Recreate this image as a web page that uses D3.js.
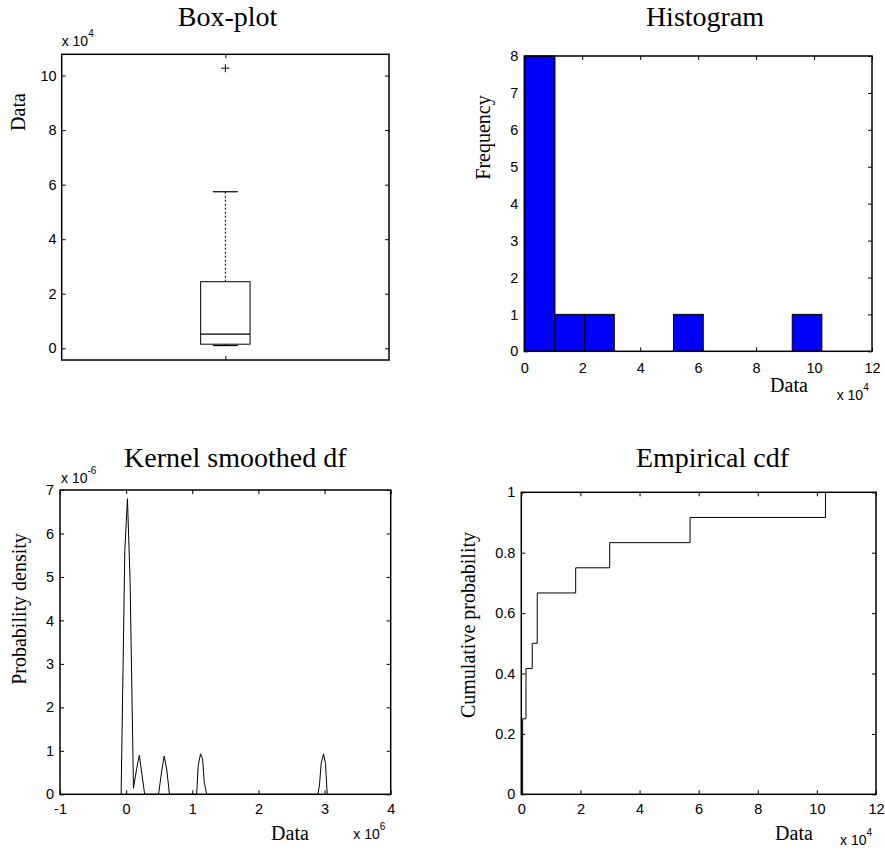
<!DOCTYPE html>
<html><head><meta charset="utf-8">
<script src="https://cdn.jsdelivr.net/npm/d3@7"></script>
<style>body{margin:0;background:#fff}</style>
</head><body>
<svg id="c" width="885" height="850"></svg>
<script>
// ---------- data ----------
// Box-plot (values in units of 10^4)
const boxTicks = [0, 2, 4, 6, 8, 10];
const boxQuartiles = [0.15, 0.52, 2.44];   // Q1, median, Q3
const boxWhiskers = [0.10, 5.74];          // lower, upper
const boxOutliers = [10.27];

// Histogram (x in units of 10^4)
const histEdges = [0.035, 1.0585, 2.082, 3.1055, 4.129, 5.1525, 6.176, 7.1995, 8.223, 9.2465, 10.27];
const histCounts = [8, 1, 1, 0, 0, 1, 0, 0, 0, 1];
const histXTicks = [0, 2, 4, 6, 8, 10, 12];
const histYTicks = [0, 1, 2, 3, 4, 5, 6, 7, 8];

// Kernel smoothed df (x in units of 10^6, y in units of 10^-6)
const kdeX = [-0.09, -0.076, -0.02, 0.02, 0.06, 0.111, 0.16, 0.2, 0.23, 0.28, 0.49, 0.54, 0.575, 0.615, 0.655, 1.066, 1.09, 1.125, 1.155, 1.182, 1.218, 2.899, 2.923, 2.949, 2.984, 3.014, 3.04];
const kdeY = [0, 0, 5.6, 6.8, 4.9, 0.14, 0.6, 0.9, 0.56, 0, 0, 0.56, 0.88, 0.56, 0, 0, 0.67, 0.93, 0.82, 0.27, 0, 0, 0.21, 0.71, 0.93, 0.71, 0];
const kdeXTicks = [-1, 0, 1, 2, 3, 4];
const kdeYTicks = [0, 1, 2, 3, 4, 5, 6, 7];

// Empirical cdf (x in units of 10^4)
const ecdfX = [0.045, 0.158, 0.37, 0.54, 1.84, 2.99, 5.71, 10.29];
const ecdfF = [0.25, 0.4167, 0.5, 0.6667, 0.75, 0.8333, 0.9167, 1];
const ecdfXTicks = [0, 2, 4, 6, 8, 10, 12];
const ecdfYTicks = [0, 0.2, 0.4, 0.6, 0.8, 1];

// ---------- helpers ----------
const svg = d3.select("#c");
const SANS = "'Liberation Sans', Arial, sans-serif";
const SERIF = "'Liberation Serif', 'Times New Roman', serif";
const TL = 4;
const TICKFS = 14.5;

function panel(o) {
  const x = d3.scaleLinear().domain(o.xDomain).range([o.l, o.r]);
  const y = d3.scaleLinear().domain(o.yDomain).range([o.b, o.t]);
  const g = svg.append("g");
  const style = a => a.attr("font-family", SANS).attr("font-size", TICKFS)
    .call(s => s.select(".domain").remove())
    .call(s => s.selectAll("line").attr("stroke", "#000"))
    .call(s => s.selectAll("text").attr("fill", "#000"));
  g.append("g").attr("transform", `translate(${o.l},0)`)
    .call(d3.axisLeft(y).tickValues(o.yTicks).tickSizeInner(-TL).tickSizeOuter(0).tickPadding(o.yPad || 6).tickFormat(d => String(+d.toFixed(4))))
    .call(style);
  g.append("g").attr("transform", `translate(${o.r},0)`)
    .call(d3.axisRight(y).tickValues(o.yTicks).tickSizeInner(-TL).tickSizeOuter(0).tickFormat(""))
    .call(style);
  g.append("g").attr("transform", `translate(0,${o.b})`)
    .call(d3.axisBottom(x).tickValues(o.xTicks).tickSizeInner(-TL).tickSizeOuter(0).tickPadding(o.xPad || 9).tickFormat(o.xLabels === false ? "" : (d => String(d))))
    .call(style);
  g.append("g").attr("transform", `translate(0,${o.t})`)
    .call(d3.axisTop(x).tickValues(o.xTicks).tickSizeInner(-TL).tickSizeOuter(0).tickFormat(""))
    .call(style);
  return {x, y, g};
}
function frame(o) {
  svg.append("rect").attr("x", o.l).attr("y", o.t).attr("width", o.r - o.l).attr("height", o.b - o.t)
    .attr("fill", "none").attr("stroke", "#000").attr("stroke-width", 1.5);
}
function title(txt, cx, by) {
  svg.append("text").attr("x", cx).attr("y", by).attr("text-anchor", "middle")
    .attr("font-family", SERIF).attr("font-size", 28).text(txt);
}
function ylabel(txt, bx, cy) {
  svg.append("text").attr("transform", `translate(${bx},${cy}) rotate(-90)`).attr("text-anchor", "middle")
    .attr("font-family", SERIF).attr("font-size", 20).text(txt);
}
function xlabel(txt, cx, by) {
  svg.append("text").attr("x", cx).attr("y", by).attr("text-anchor", "middle")
    .attr("font-family", SERIF).attr("font-size", 20).text(txt);
}
function expo(x, by, ex) {
  const t = svg.append("text").attr("x", x).attr("y", by).attr("font-family", SANS).attr("font-size", 14);
  t.append("tspan").text("x 10");
  t.append("tspan").attr("dy", -9).attr("font-size", 10).text(ex);
}

// ---------- Box-plot ----------
{
  const o = {l: 61.7, r: 389, t: 54.3, b: 360, xDomain: [0.5, 1.5], yDomain: [-0.43, 10.78],
             xTicks: [1], yTicks: boxTicks, xLabels: false, yPad: 5};
  const {x, y, g} = panel(o);
  const bw = 0.0755, cw = 0.038;
  const m = g.append("g").attr("stroke", "#000").attr("fill", "none");
  // whiskers
  m.append("line").attr("x1", x(1)).attr("x2", x(1)).attr("y1", y(boxQuartiles[2])).attr("y2", y(boxWhiskers[1]))
    .attr("stroke-dasharray", "2,2");
  m.append("line").attr("x1", x(1)).attr("x2", x(1)).attr("y1", y(boxQuartiles[0])).attr("y2", y(boxWhiskers[0]))
    .attr("stroke-dasharray", "2,2");
  boxWhiskers.forEach(w => m.append("line").attr("x1", x(1 - cw)).attr("x2", x(1 + cw)).attr("y1", y(w)).attr("y2", y(w)).attr("stroke-width", 1.2));
  // box
  m.append("rect").attr("x", x(1 - bw)).attr("width", x(1 + bw) - x(1 - bw))
    .attr("y", y(boxQuartiles[2])).attr("height", y(boxQuartiles[0]) - y(boxQuartiles[2]));
  m.append("line").attr("x1", x(1 - bw)).attr("x2", x(1 + bw)).attr("y1", y(boxQuartiles[1])).attr("y2", y(boxQuartiles[1])).attr("stroke-width", 1.3);
  // outliers
  boxOutliers.forEach(v => m.append("path")
    .attr("d", `M${x(1) - 4},${y(v)}H${x(1) + 4}M${x(1)},${y(v) - 4}V${y(v) + 4}`));
  frame(o);
  title("Box-plot", 227.5, 26);
  ylabel("Data", 25, 112);
  expo(61.7, 46, "4");
}

// ---------- Histogram ----------
{
  const o = {l: 524.3, r: 872, t: 56, b: 351.3, xDomain: [0, 12], yDomain: [0, 8],
             xTicks: histXTicks, yTicks: histYTicks, xPad: 11};
  const {x, y, g} = panel(o);
  g.append("g").selectAll("rect").data(histCounts).join("rect")
    .attr("x", (d, i) => x(histEdges[i]))
    .attr("width", (d, i) => x(histEdges[i + 1]) - x(histEdges[i]))
    .attr("y", d => y(d)).attr("height", d => y(0) - y(d))
    .attr("fill", "#0000ff").attr("stroke", "#000").attr("stroke-width", 1);
  frame(o);
  title("Histogram", 705, 26);
  ylabel("Frequency", 489.5, 137.5);
  xlabel("Data", 789, 391.5);
  expo(836.7, 400, "4");
}

// ---------- Kernel smoothed df ----------
{
  const o = {l: 60, r: 390.7, t: 490, b: 794.3, xDomain: [-1, 4], yDomain: [0, 7],
             xTicks: kdeXTicks, yTicks: kdeYTicks};
  const {x, y, g} = panel(o);
  g.append("path").datum(kdeX.map((v, i) => [v, kdeY[i]]))
    .attr("d", d3.line().x(d => x(d[0])).y(d => y(d[1])))
    .attr("fill", "none").attr("stroke", "#000").attr("stroke-width", 1);
  frame(o);
  title("Kernel smoothed df", 235.3, 466.7);
  ylabel("Probability density", 25.7, 609);
  xlabel("Data", 290, 840);
  expo(61, 482.7, "-6");
  expo(353.3, 839.3, "6");
}

// ---------- Empirical cdf ----------
{
  const o = {l: 521.3, r: 876, t: 492.3, b: 794.3, xDomain: [0, 12], yDomain: [0, 1],
             xTicks: ecdfXTicks, yTicks: ecdfYTicks};
  const {x, y, g} = panel(o);
  const pts = [];
  let prev = 0;
  ecdfX.forEach((v, i) => { pts.push([v, prev]); pts.push([v, ecdfF[i]]); if (i + 1 < ecdfX.length) pts.push([ecdfX[i + 1], ecdfF[i]]); prev = ecdfF[i]; });
  g.append("path").datum(pts)
    .attr("d", d3.line().x(d => x(d[0])).y(d => y(d[1])))
    .attr("fill", "none").attr("stroke", "#000").attr("stroke-width", 1);
  frame(o);
  title("Empirical cdf", 712.5, 467.3);
  ylabel("Cumulative probability", 475, 625);
  xlabel("Data", 794, 840);
  expo(840, 845, "4");
}
</script>
</body></html>
